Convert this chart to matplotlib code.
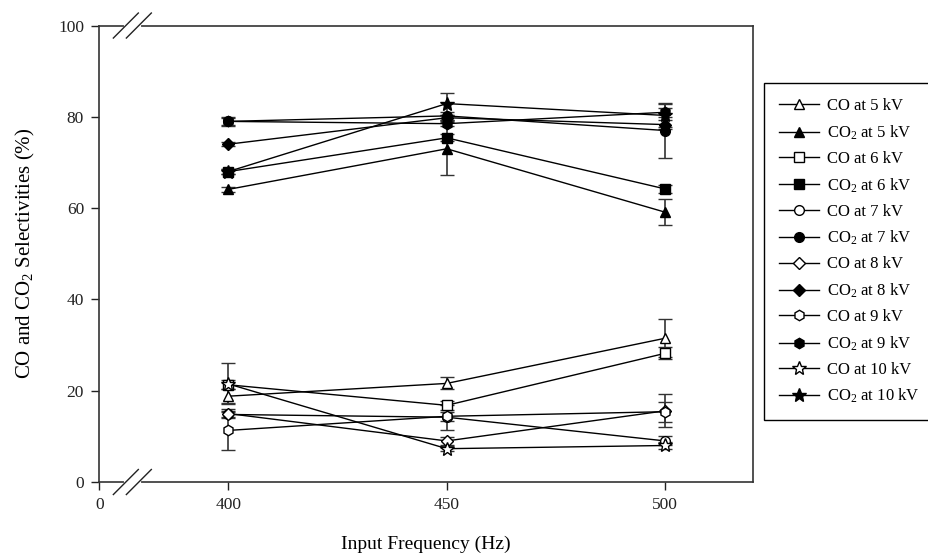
import numpy as np
import matplotlib
matplotlib.use("Agg")
import matplotlib.pyplot as plt

plt.rcParams['font.family'] = ['Liberation Serif', 'DejaVu Serif']
plt.rcParams['mathtext.fontset'] = 'custom'
plt.rcParams['mathtext.rm'] = 'Liberation Serif'
plt.rcParams['mathtext.it'] = 'Liberation Serif:italic'

# Data
freq = [400, 450, 500]

co_5kv = [18.8, 21.6, 31.5]
co_5kv_err = [1.5, 1.3, 4.2]
co2_5kv = [64.1, 73.0, 59.1]
co2_5kv_err = [0.6, 5.8, 2.8]

co_6kv = [21.3, 16.8, 28.2]
co_6kv_err = [1.0, 1.0, 1.3]
co2_6kv = [68.0, 75.4, 64.2]
co2_6kv_err = [0.5, 0.8, 0.8]

co_7kv = [14.8, 14.2, 9.0]
co_7kv_err = [0.5, 2.7, 1.0]
co2_7kv = [79.0, 80.2, 77.0]
co2_7kv_err = [1.0, 0.8, 6.0]

co_8kv = [15.0, 9.0, 15.6]
co_8kv_err = [1.0, 0.8, 3.6]
co2_8kv = [74.0, 79.8, 78.3]
co2_8kv_err = [0.5, 0.5, 1.0]

co_9kv = [11.3, 14.4, 15.4]
co_9kv_err = [4.3, 1.0, 2.2]
co2_9kv = [79.0, 78.5, 81.0]
co2_9kv_err = [0.8, 0.5, 1.0]

co_10kv = [21.5, 7.3, 8.0]
co_10kv_err = [4.5, 0.6, 0.8]
co2_10kv = [68.0, 82.9, 80.3]
co2_10kv_err = [0.5, 2.4, 2.6]

series = [
    (co_5kv, co_5kv_err, '^', False, 'CO at 5 kV'),
    (co2_5kv, co2_5kv_err, '^', True, 'CO$_2$ at 5 kV'),
    (co_6kv, co_6kv_err, 's', False, 'CO at 6 kV'),
    (co2_6kv, co2_6kv_err, 's', True, 'CO$_2$ at 6 kV'),
    (co_7kv, co_7kv_err, 'o', False, 'CO at 7 kV'),
    (co2_7kv, co2_7kv_err, 'o', True, 'CO$_2$ at 7 kV'),
    (co_8kv, co_8kv_err, 'D', False, 'CO at 8 kV'),
    (co2_8kv, co2_8kv_err, 'D', True, 'CO$_2$ at 8 kV'),
    (co_9kv, co_9kv_err, 'h', False, 'CO at 9 kV'),
    (co2_9kv, co2_9kv_err, 'h', True, 'CO$_2$ at 9 kV'),
    (co_10kv, co_10kv_err, '*', False, 'CO at 10 kV'),
    (co2_10kv, co2_10kv_err, '*', True, 'CO$_2$ at 10 kV'),
]
msizes = {'^': 7, 's': 6.5, 'o': 7, 'D': 6, 'h': 7.5, '*': 10}

# broken x axis: 0..378 squeezed into a short stretch
BRK = 378.0
SQ = 7.5


def fwd(x):
    x = np.asarray(x, dtype=float)
    return np.where(x >= BRK, x, BRK - (BRK - x) * SQ / BRK)


def inv(u):
    u = np.asarray(u, dtype=float)
    return np.where(u >= BRK, u, BRK - (BRK - u) * BRK / SQ)


fig = plt.figure(figsize=(9.29, 5.55), dpi=100)
ax = fig.add_axes([0.1069, 0.1315, 0.7033, 0.8225])
ax.set_xscale('function', functions=(fwd, inv))

handles = []
labels = []
for vals, err, mk, filled, label in series:
    h = ax.errorbar(freq, vals, yerr=err, marker=mk, ms=msizes[mk],
                    color='black', mfc='black' if filled else 'white',
                    mec='black', mew=1.0, lw=1.0, ecolor='#333333',
                    elinewidth=1.2, capsize=5, capthick=1.2)
    handles.append(h.lines[0])
    labels.append(label)

ax.set_xlim(0, 520)
ax.set_ylim(0, 100)
ax.set_xticks([0, 400, 450, 500])
ax.set_yticks([0, 20, 40, 60, 80, 100])
ax.tick_params(direction='out', length=6, width=1, labelsize=12.5,
               colors='#222222', top=False, right=False, pad=5)
for sp in ax.spines.values():
    sp.set_linewidth(1.2)
    sp.set_color('#333333')

ax.set_xlabel('Input Frequency (Hz)', fontsize=14, labelpad=16)
ax.set_ylabel('CO and CO$_2$ Selectivities (%)', fontsize=15, labelpad=15)

# axis break marks on top and bottom spines (axes fractions)
hw, hh = 0.0191, 0.0274
for yb in (0.0, 1.0):
    ax.plot([0.0406, 0.0605], [yb, yb], transform=ax.transAxes, color='white',
            lw=3, clip_on=False, zorder=5)
    for xc in (0.0406, 0.0605):
        ax.plot([xc - hw, xc + hw], [yb - hh, yb + hh], transform=ax.transAxes,
                color='#222222', lw=1.0, clip_on=False, zorder=6)

leg = ax.legend(handles, labels, loc='upper left',
                bbox_to_anchor=(0.8224, 0.850), bbox_transform=fig.transFigure,
                fontsize=12, frameon=True, fancybox=False, framealpha=1,
                edgecolor='black', handlelength=2.4, labelspacing=0.55,
                borderpad=0.9, handletextpad=0.5, borderaxespad=0)
leg.get_frame().set_linewidth(1.0)

fig.savefig('out.png', dpi=100)
